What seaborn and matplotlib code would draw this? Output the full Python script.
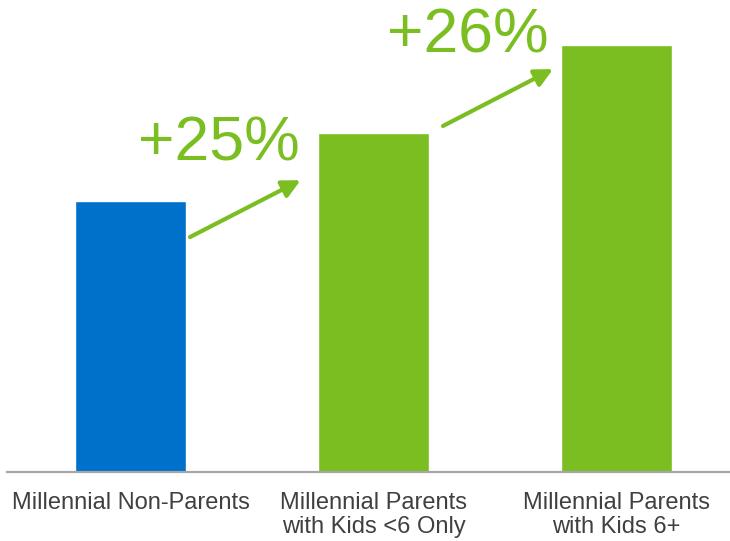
import matplotlib
matplotlib.use("Agg")
import matplotlib.pyplot as plt
import seaborn as sns
import pandas as pd

# Segment labels and relative index values (non-parents = 100)
segments = ["Millennial Non-Parents",
            "Millennial Parents\nwith Kids <6 Only",
            "Millennial Parents\nwith Kids 6+"]
index_values = [100, 125, 157.5]
bar_colors = ["#0071CA", "#7BBE21", "#7BBE21"]
lift_labels = ["+25%", "+26%"]

df = pd.DataFrame({"segment": segments, "value": index_values})

sns.set_theme(style="white")
plt.rcParams["font.family"] = ["Liberation Sans", "DejaVu Sans"]

fig = plt.figure(figsize=(7.30, 5.41), dpi=100)
ax = fig.add_axes([7 / 730, 69 / 541, 723 / 730, 472 / 541])

sns.barplot(data=df, x="segment", y="value", hue="segment",
            palette=bar_colors, width=0.457, legend=False,
            saturation=1, ax=ax)

ax.set_xlim(-0.508, 2.467)
ax.set_ylim(0, 174.2)
ax.set_xlabel("")
ax.set_ylabel("")
ax.set_yticks([])
for side in ["top", "right", "left"]:
    ax.spines[side].set_visible(False)
ax.spines["bottom"].set_color("#A6A6A6")
ax.spines["bottom"].set_linewidth(1.6)
ax.tick_params(axis="x", length=0, pad=14.5, labelsize=17, colors="#404040")
for lbl in ax.get_xticklabels():
    lbl.set_linespacing(1.13)

green = "#7BBE21"
# Growth arrows between consecutive bars
arrow_spans = [((0.245, 86.7), (0.700, 107.7)),
               ((1.286, 127.7), (1.739, 148.7))]
for (x0, y0), (x1, y1) in arrow_spans:
    ax.annotate("", xy=(x1, y1), xytext=(x0, y0),
                arrowprops=dict(arrowstyle="-|>,head_length=0.9,head_width=0.45",
                                color=green, lw=3, shrinkA=0, shrinkB=0))

# Growth labels above the arrows
label_pos = [(0.364, 115.1), (1.389, 155.0)]
for (x, y), txt in zip(label_pos, lift_labels):
    ax.text(x, y, txt, ha="center", va="baseline", fontsize=45, color=green)

fig.savefig("out.png", dpi=100)
